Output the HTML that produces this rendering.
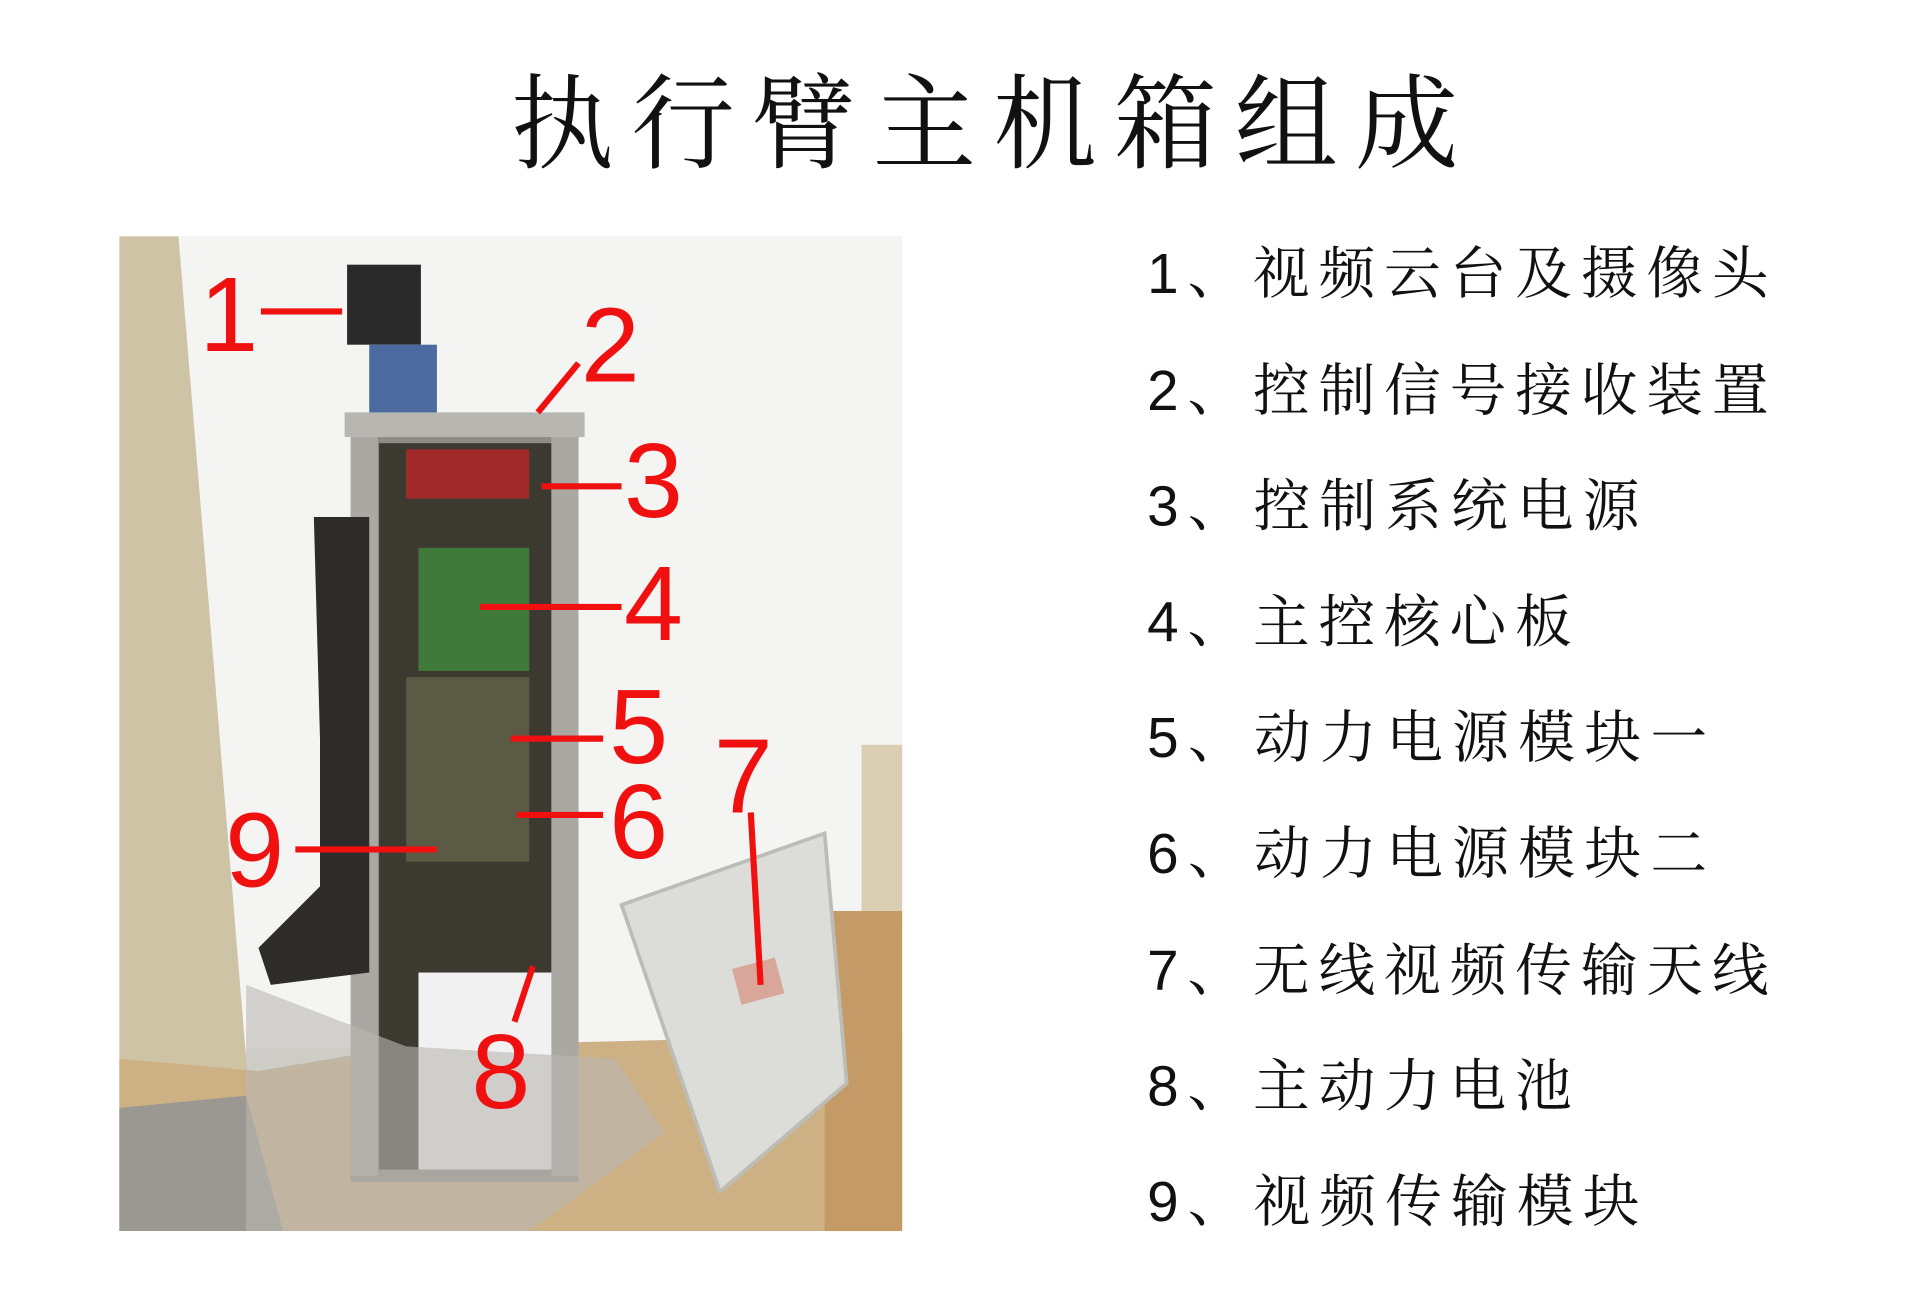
<!DOCTYPE html>
<html><head><meta charset="utf-8"><style>
html,body{margin:0;padding:0;background:#fff;width:1920px;height:1300px;overflow:hidden}
svg{display:block}
</style></head><body>
<svg width="1920" height="1300" viewBox="0 0 1560 1056" preserveAspectRatio="none" xmlns="http://www.w3.org/2000/svg">
<rect width="1560" height="1056" fill="#fff"/>
<text x="415" y="130" font-family="'Noto Serif CJK SC','Noto Sans CJK SC',serif" font-size="84" textLength="770" lengthAdjust="spacing" fill="#111">执行臂主机箱组成</text>
<g>
<rect x="97" y="192" width="636" height="808" fill="#ecebe6"/>
<rect x="140" y="192" width="593" height="660" fill="#f4f4f2"/>
<polygon points="97,192 145,192 200,860 210,1000 97,1000" fill="#cfc3a6"/>
<polygon points="97,860 210,870 330,850 733,840 733,1000 97,1000" fill="#cdb084"/>
<polygon points="97,900 200,890 230,1000 97,1000" fill="#9a9890"/>
<rect x="700" y="605" width="33" height="150" fill="#d9cdb4"/>
<rect x="670" y="740" width="63" height="260" fill="#c49b66"/>
<rect x="285" y="340" width="185" height="620" fill="#8e8c86"/>
<rect x="308" y="360" width="140" height="590" fill="#3c3a30"/>
<rect x="340" y="445" width="90" height="100" fill="#3f7a3a"/>
<rect x="330" y="550" width="100" height="150" fill="#5a5a45"/>
<rect x="330" y="365" width="100" height="40" fill="#a02a2a"/>
<rect x="340" y="790" width="125" height="160" fill="#f1f1f1"/>
<rect x="285" y="345" width="22" height="610" fill="#a9a8a2"/>
<rect x="448" y="345" width="22" height="610" fill="#a9a8a2"/>
<rect x="280" y="335" width="195" height="20" fill="#b7b6b0"/>
<rect x="282" y="215" width="60" height="65" fill="#2a2a2a"/>
<rect x="300" y="280" width="55" height="55" fill="#4a6aa0"/>
<polygon points="255,420 300,420 300,790 220,800 210,770 260,720 260,600" fill="#2e2c2a"/>
<polygon points="200,800 330,850 500,860 540,920 430,1000 330,1000 200,1000" fill="#b9b8b2" opacity=".6"/>
<polygon points="505,735 670,677 688,880 585,968" fill="#dcdcd8" stroke="#bdbdb8" stroke-width="3"/>
<rect x="598" y="782" width="36" height="30" fill="#d9a79a" transform="rotate(-15 616 797)"/>
</g>
<g fill="#f01010" font-family="'Liberation Sans',sans-serif" font-size="86">
<text x="162" y="285">1</text><text x="472" y="310">2</text><text x="507" y="420">3</text><text x="507" y="520">4</text><text x="495" y="620">5</text><text x="495" y="697">6</text><text x="580" y="660">7</text><text x="383" y="900">8</text><text x="183" y="720">9</text>
</g>
<g stroke="#f01010" stroke-width="5" fill="none">
<line x1="212" y1="253" x2="278" y2="253"/><line x1="437" y1="335" x2="470" y2="295"/><line x1="440" y1="395" x2="505" y2="395"/><line x1="390" y1="493" x2="505" y2="493"/><line x1="415" y1="600" x2="490" y2="600"/><line x1="420" y1="662" x2="490" y2="662"/><line x1="610" y1="660" x2="618" y2="800"/><line x1="240" y1="690" x2="355" y2="690"/><line x1="418" y1="830" x2="433" y2="785"/>
</g>
<g font-family="'Liberation Sans','Noto Serif CJK SC','Noto Sans CJK SC',sans-serif" font-size="46" fill="#111" lengthAdjust="spacing">
<text x="932" y="238" textLength="505">1、视频云台及摄像头</text>
<text x="932" y="333" textLength="505">2、控制信号接收装置</text>
<text x="932" y="427" textLength="400">3、控制系统电源</text>
<text x="932" y="521" textLength="345">4、主控核心板</text>
<text x="932" y="615" textLength="455">5、动力电源模块一</text>
<text x="932" y="709" textLength="455">6、动力电源模块二</text>
<text x="932" y="804" textLength="505">7、无线视频传输天线</text>
<text x="932" y="898" textLength="345">8、主动力电池</text>
<text x="932" y="992" textLength="400">9、视频传输模块</text>
</g>
</svg>
</body></html>
